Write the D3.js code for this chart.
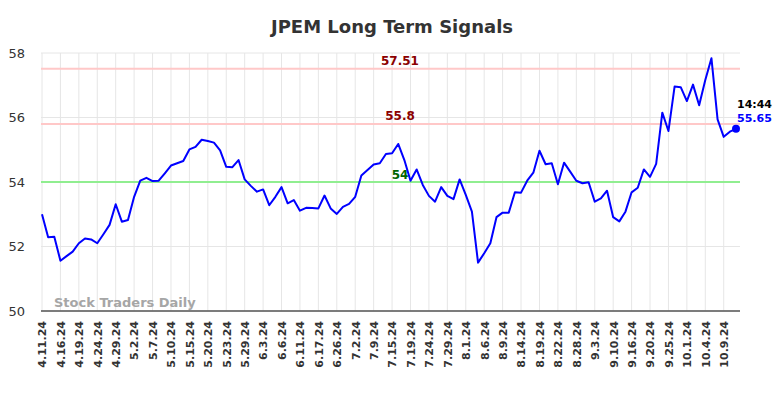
<!DOCTYPE html>
<html>
<head>
<meta charset="utf-8">
<script src="https://cdn.jsdelivr.net/npm/d3@7"></script>
<style>
  html, body { margin: 0; padding: 0; background: #fff; }
  svg { display: block; font-family: "DejaVu Sans", sans-serif; }
</style>
</head>
<body>
<svg id="chart" width="784" height="398"></svg>
<script>
// ---- data ----
const title = "JPEM Long Term Signals";
const values = [
  53.00, 52.29, 52.30, 51.56, 51.70, 51.84, 52.10, 52.25, 52.22, 52.10,
  52.38, 52.67, 53.31, 52.77, 52.82, 53.54, 54.04, 54.13, 54.03, 54.04,
  54.27, 54.51, 54.58, 54.65, 55.01, 55.09, 55.31, 55.27, 55.22, 54.98,
  54.47, 54.46, 54.68, 54.08, 53.88, 53.70, 53.77, 53.28, 53.54, 53.84,
  53.34, 53.44, 53.11, 53.20, 53.19, 53.18, 53.58, 53.18, 53.01, 53.23,
  53.32, 53.54, 54.20, 54.37, 54.54, 54.58, 54.87, 54.89, 55.18, 54.68,
  54.04, 54.39, 53.91, 53.57, 53.39, 53.84, 53.57, 53.47, 54.08, 53.60,
  53.08, 51.50, 51.79, 52.10, 52.91, 53.05, 53.05, 53.68, 53.67, 54.04,
  54.29, 54.97, 54.55, 54.58, 53.93, 54.60, 54.32, 54.04, 53.96, 53.99,
  53.39, 53.49, 53.73, 52.91, 52.78, 53.08, 53.68, 53.82, 54.39, 54.16,
  54.56, 56.15, 55.58, 56.96, 56.94, 56.51, 57.02, 56.38, 57.16, 57.84,
  55.94, 55.40, 55.56, 55.65
];
const tickLabels = [
  "4.11.24","4.16.24","4.19.24","4.24.24","4.29.24","5.2.24","5.7.24","5.10.24",
  "5.15.24","5.20.24","5.23.24","5.29.24","6.3.24","6.6.24","6.11.24","6.17.24",
  "6.26.24","7.2.24","7.9.24","7.15.24","7.19.24","7.24.24","7.29.24","8.1.24",
  "8.6.24","8.9.24","8.14.24","8.19.24","8.22.24","8.28.24","9.3.24","9.10.24",
  "9.16.24","9.20.24","9.25.24","10.1.24","10.4.24","10.9.24"
];
const tickStep = 3;               // a date label every 3rd point
const yTicks = [50, 52, 54, 56, 58];
const resistanceLevels = [57.51, 55.8];
const supportLevels = [54];
const lastTime = "14:44";
const lastValue = 55.65;
const watermark = "Stock Traders Daily";

// ---- layout ----
const W = 784, H = 398;
const plot = { left: 41, right: 740, top: 53, bottom: 311 };
const svg = d3.select("#chart");

const x = d3.scaleLinear().domain([0, values.length - 1]).range([42, 736]);
const y = d3.scaleLinear().domain([50, 58]).range([plot.bottom, plot.top]);

const tickIdx = tickLabels.map((d, i) => i * tickStep);

// grid
const grid = svg.append("g");
grid.selectAll("line.h").data(yTicks).enter().append("line")
  .attr("x1", plot.left).attr("x2", plot.right)
  .attr("y1", d => y(d)).attr("y2", d => y(d))
  .attr("stroke", "#e6e6e6").attr("stroke-width", 1);
grid.selectAll("line.v").data(tickIdx).enter().append("line")
  .attr("x1", d => x(d)).attr("x2", d => x(d))
  .attr("y1", plot.top).attr("y2", plot.bottom)
  .attr("stroke", "#e6e6e6").attr("stroke-width", 1);

// title
svg.append("text").attr("x", W / 2).attr("y", 33)
  .attr("text-anchor", "middle").attr("font-size", 18).attr("font-weight", "bold")
  .attr("fill", "#333").text(title);

// y axis
const yAxis = svg.append("g").attr("transform", `translate(${plot.left},0)`)
  .call(d3.axisLeft(y).tickValues(yTicks).tickSize(0).tickPadding(16).tickFormat(d3.format("d")));
yAxis.select(".domain").remove();
yAxis.selectAll("text").attr("font-size", 13).attr("fill", "#333")
  .attr("font-family", "DejaVu Sans, sans-serif");

// x axis
const xAxis = svg.append("g").attr("transform", `translate(0,${plot.bottom})`)
  .call(d3.axisBottom(x).tickValues(tickIdx).tickSize(0)
    .tickFormat((d, i) => tickLabels[i]));
xAxis.select(".domain").remove();
xAxis.selectAll("text")
  .attr("transform", "rotate(-90)")
  .attr("x", -10).attr("y", 0).attr("dy", "0.35em")
  .attr("text-anchor", "end")
  .attr("font-size", 11).attr("font-weight", "bold").attr("fill", "#333")
  .attr("font-family", "DejaVu Sans, sans-serif");
svg.append("line")
  .attr("x1", plot.left).attr("x2", plot.right)
  .attr("y1", plot.bottom).attr("y2", plot.bottom)
  .attr("stroke", "#555").attr("stroke-width", 1.5);

// watermark
svg.append("text").attr("x", 54).attr("y", 307)
  .attr("font-size", 13).attr("font-weight", "bold").attr("fill", "#a6a6a6")
  .text(watermark);

// level lines
const midX = 400;
resistanceLevels.forEach(v => {
  svg.append("line").attr("x1", plot.left).attr("x2", plot.right)
    .attr("y1", y(v)).attr("y2", y(v))
    .attr("stroke", "#ffc8c8").attr("stroke-width", 2);
  svg.append("text").attr("x", midX).attr("y", y(v) - 4)
    .attr("text-anchor", "middle").attr("font-size", 12).attr("font-weight", "bold")
    .attr("fill", "#8b0000").text(String(v));
});
supportLevels.forEach(v => {
  svg.append("line").attr("x1", plot.left).attr("x2", plot.right)
    .attr("y1", y(v)).attr("y2", y(v))
    .attr("stroke", "#90ee90").attr("stroke-width", 2);
  svg.append("text").attr("x", midX).attr("y", y(v) - 3)
    .attr("text-anchor", "middle").attr("font-size", 12).attr("font-weight", "bold")
    .attr("fill", "#006400").text(String(v));
});

// price line
const line = d3.line().x((d, i) => x(i)).y(d => y(d));
svg.append("path").datum(values)
  .attr("d", line).attr("fill", "none")
  .attr("stroke", "#0000ff").attr("stroke-width", 2)
  .attr("stroke-linejoin", "round");

// last point
const lx = x(values.length - 1), ly = y(lastValue);
svg.append("circle").attr("cx", lx).attr("cy", ly).attr("r", 4).attr("fill", "#0000ff");
svg.append("text").attr("x", lx + 1).attr("y", ly - 21)
  .attr("font-size", 11).attr("font-weight", "bold").attr("fill", "#000").text(lastTime);
svg.append("text").attr("x", lx + 1).attr("y", ly - 7)
  .attr("font-size", 11).attr("font-weight", "bold").attr("fill", "#0000ff").text(lastValue.toFixed(2));
</script>
</body>
</html>
